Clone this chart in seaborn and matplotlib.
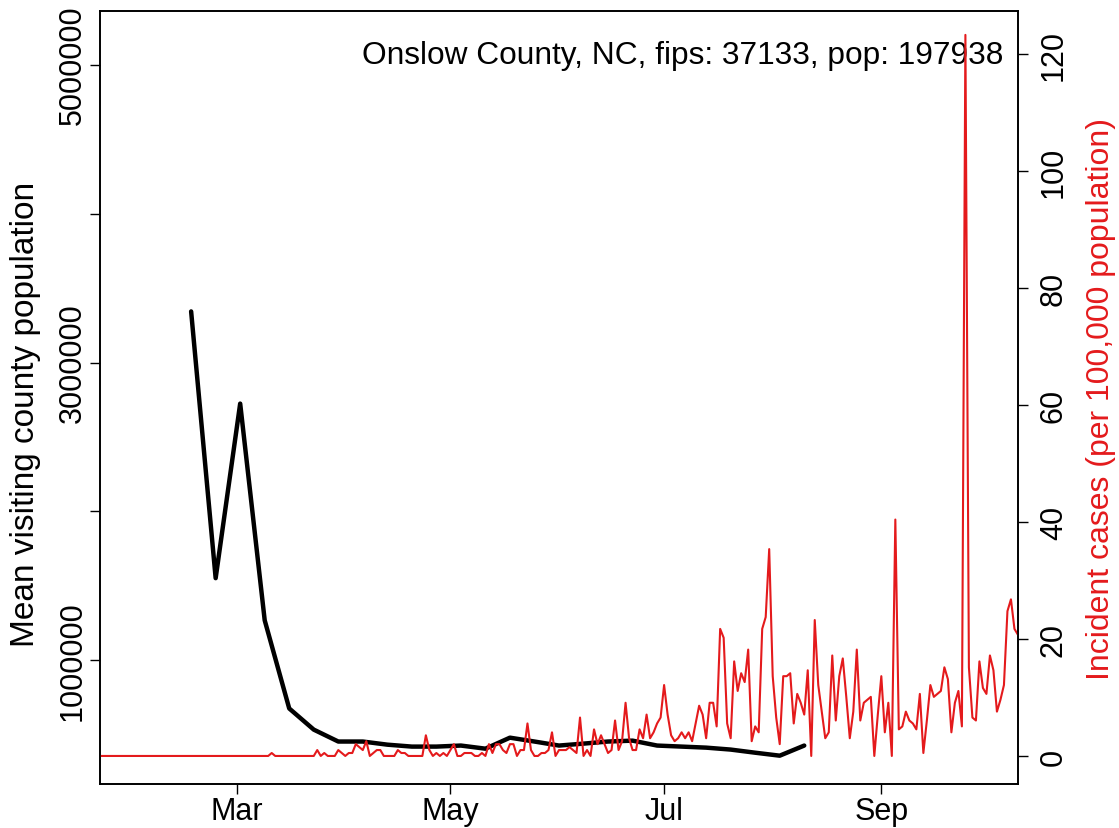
import numpy as np
import pandas as pd
import matplotlib
matplotlib.use("Agg")
import matplotlib.pyplot as plt
import seaborn as sns

# weekly mean visiting county population (black line)
visit_start = "2020-02-17"
visit_pop = [3343000, 1552000, 2724000, 1269000, 677000, 535000, 455000, 455000,
             434000, 421000, 421000, 428000, 407000, 481000, 455000, 428000,
             441000, 455000, 461000, 428000, 421000, 414000, 401000, 380000,
             360000, 428000]

# daily incident cases (red line), starting 2020-01-22
case_start = "2020-01-22"
county_pop = 197938
cases = ([0] * 49 + [1] + [0] * 12 +
         [2, 0, 1, 0, 0, 0, 2, 1, 0, 1, 1, 4, 3, 2, 5, 0, 1, 2, 2, 0,
          0, 0, 0, 2, 1, 1, 0, 0, 0, 0, 0, 7, 2, 0, 1, 0, 1, 0, 2, 4,
          0, 0, 1, 1, 1, 0, 0, 1, 0,
          4, 1, 4, 4, 2, 1, 4, 4, 0, 2, 2, 11, 2, 0, 0, 1, 1, 2, 8, 0,
          2, 2, 2, 3, 2, 1, 13, 0, 2, 0, 9, 4, 7, 4, 1, 2, 12, 2, 5, 18,
          6, 2, 2, 9, 6, 14, 6, 8, 11, 13, 24, 14, 7, 5, 6, 8, 6, 8, 5, 11,
          17, 14, 6, 18, 18, 10, 43, 40, 11, 6, 32, 22, 28, 25, 36, 5, 10, 8, 43, 47,
          70, 27, 13, 4, 27, 27, 28, 11, 21, 18, 14, 29, 0, 46, 24, 15, 6, 8, 34, 12,
          27, 33, 20, 6, 15, 36, 12, 18, 19, 20, 0, 14, 27, 8, 18, 0, 80, 9, 10, 15,
          12, 11, 9, 21, 1, 12, 24, 20, 21, 22, 30, 26, 8, 18, 22, 10, 244, 30, 13, 12,
          32, 23, 21, 34, 29, 15, 19, 24, 49, 53, 43, 41])

left_ticks = [1000000, 2000000, 3000000, 4000000, 5000000]
left_labels = ["1000000", "", "3000000", "", "5000000"]
right_ticks = [0, 20, 40, 60, 80, 100, 120]
month_ticks = ["2020-03-01", "2020-05-01", "2020-07-01", "2020-09-01"]
month_labels = ["Mar", "May", "Jul", "Sep"]
title = "Onslow County, NC, fips: 37133, pop: 197938"

visits = pd.DataFrame({"date": pd.date_range(visit_start, periods=len(visit_pop), freq="7D"),
                       "pop": visit_pop})
daily = pd.DataFrame({"date": pd.date_range(case_start, periods=len(cases), freq="D"),
                      "cases": cases})
daily["per100k"] = daily["cases"] * 100000 / county_pop

sns.set_theme(style="ticks")
plt.rcParams["font.family"] = ["Liberation Sans", "DejaVu Sans"]
plt.rcParams["text.color"] = "black"
plt.rcParams["axes.labelcolor"] = "black"
plt.rcParams["xtick.color"] = "black"
plt.rcParams["ytick.color"] = "black"
red = "#e41a1c"

fig = plt.figure(figsize=(11.19, 8.29), dpi=100)
ax = fig.add_axes([0.0894, 0.0531, 0.8203, 0.9324])
ax2 = ax.twinx()

sns.lineplot(data=visits, x="date", y="pop", ax=ax, color="black", linewidth=3.2)
sns.lineplot(data=daily, x="date", y="per100k", ax=ax2, color=red, linewidth=1.5)

ax.set_xlim(daily["date"].iloc[0], daily["date"].iloc[-1])
ax.set_ylim(170000, 5360000)
ax2.set_ylim(-4.79, 127.35)

ax.set_xticks(pd.to_datetime(month_ticks))
ax.set_xticklabels(month_labels)
ax.set_yticks(left_ticks)
ax.set_yticklabels(left_labels)
ax2.set_yticks(right_ticks)
ax2.set_yticklabels([str(t) for t in right_ticks])

fs_tick = 22
ax.tick_params(axis="x", labelsize=fs_tick, length=7, width=1, pad=2)
ax.tick_params(axis="y", labelsize=fs_tick, length=7, width=1, pad=2, labelrotation=90)
ax2.tick_params(axis="y", labelsize=fs_tick, length=7, width=1, pad=8, labelrotation=90)
for lab in ax.get_yticklabels():
    lab.set_verticalalignment("center")
for lab in ax2.get_yticklabels():
    lab.set_verticalalignment("center")

ax.set_xlabel("")
ax.set_ylabel("Mean visiting county population", fontsize=24)
ax2.set_ylabel("Incident cases (per 100,000 population)", fontsize=23, color=red)
ax.yaxis.set_label_coords(-0.064, 0.479)
ax2.yaxis.set_label_coords(1.074, 0.5)

for a in (ax, ax2):
    for s in a.spines.values():
        s.set_visible(True)
        s.set_color("black")
        s.set_linewidth(1.2)

ax.text(0.984, 0.943, title, transform=ax.transAxes, ha="right", va="center", fontsize=22.8)

fig.savefig("out.png", dpi=100)
